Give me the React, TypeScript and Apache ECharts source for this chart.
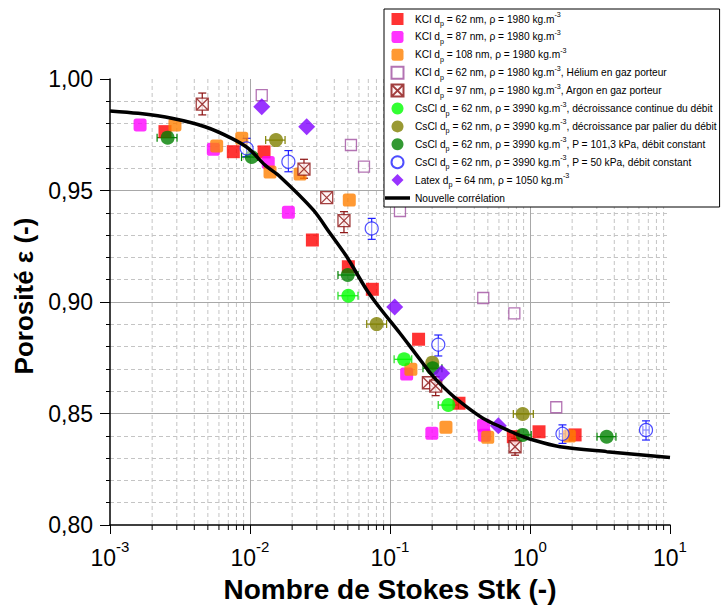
import React, { useEffect, useRef } from 'react';
import * as echarts from 'echarts';

const FONT = '"Liberation Sans", Arial, sans-serif';

// Axis ranges and tick values
const X_MIN = 0.001;
const X_MAX = 10;
const Y_MIN = 0.8;
const Y_MAX = 1.0;
const Y_INTERVAL = 0.05;
const MINOR_X = [
  0.002, 0.003, 0.004, 0.005, 0.006, 0.007, 0.008, 0.009,
  0.02, 0.03, 0.04, 0.05, 0.06, 0.07, 0.08, 0.09,
  0.2, 0.3, 0.4, 0.5, 0.6, 0.7, 0.8, 0.9,
  2, 3, 4, 5, 6, 7, 8, 9,
];

// Series names
const N_KCL62 = 'KCl 62';
const N_KCL87 = 'KCl 87';
const N_KCL108 = 'KCl 108';
const N_HE = 'KCl 62 He';
const N_AR = 'KCl 97 Ar';
const N_CS_CONT = 'CsCl cont';
const N_CS_PAL = 'CsCl palier';
const N_CS_101 = 'CsCl 101';
const N_CS_50 = 'CsCl 50';
const N_LATEX = 'Latex';
const N_CORR = 'Nouvelle corrélation';

const LEGEND_LABELS: Record<string, string> = {
  [N_KCL62]: 'KCl d{sub|p} = 62 nm, ρ = 1980 kg.m{sup|-3}',
  [N_KCL87]: 'KCl d{sub|p} = 87 nm, ρ = 1980 kg.m{sup|-3}',
  [N_KCL108]: 'KCl d{sub|p} = 108 nm, ρ = 1980 kg.m{sup|-3}',
  [N_HE]: 'KCl d{sub|p} = 62 nm, ρ = 1980 kg.m{sup|-3}, Hélium en gaz porteur',
  [N_AR]: 'KCl d{sub|p} = 97 nm, ρ = 1980 kg.m{sup|-3}, Argon en gaz porteur',
  [N_CS_CONT]: 'CsCl d{sub|p} = 62 nm, ρ = 3990 kg.m{sup|-3}, décroissance continue du débit',
  [N_CS_PAL]: 'CsCl d{sub|p} = 62 nm, ρ = 3990 kg.m{sup|-3}, décroissance par palier du débit',
  [N_CS_101]: 'CsCl d{sub|p} = 62 nm, ρ = 3990 kg.m{sup|-3}, P = 101,3 kPa, débit constant',
  [N_CS_50]: 'CsCl d{sub|p} = 62 nm, ρ = 3990 kg.m{sup|-3}, P = 50 kPa, débit constant',
  [N_LATEX]: 'Latex d{sub|p} = 64 nm, ρ = 1050 kg.m{sup|-3}',
  [N_CORR]: 'Nouvelle corrélation',
};

// Data: [Stk, porosity]
const kcl62 = [
  [0.00247, 0.9764], [0.0076, 0.9674], [0.0126, 0.9673], [0.0279, 0.9278],
  [0.0504, 0.9158], [0.0748, 0.9057], [0.160, 0.8833], [0.311, 0.8546],
  [0.760, 0.8396], [1.16, 0.8418], [2.10, 0.8404],
];
const kcl87 = [
  [0.00164, 0.9794], [0.00547, 0.9685], [0.0135, 0.9626], [0.0188, 0.9402],
  [0.1315, 0.8677], [0.199, 0.8411], [0.466, 0.8447], [0.472, 0.8403],
];
const kcl108 = [
  [0.00291, 0.9794], [0.00578, 0.9700], [0.00873, 0.9734], [0.0139, 0.9583],
  [0.0228, 0.9574], [0.0512, 0.9457], [0.141, 0.8698], [0.251, 0.8438],
  [0.499, 0.8393], [1.91, 0.8399],
];
const kclHelium = [
  [0.01213, 0.9928], [0.0526, 0.9704], [0.0652, 0.9607], [0.1178, 0.9408],
  [0.4636, 0.9018], [0.773, 0.8949], [1.54, 0.8528],
];
const kclArgon = [
  [0.00456, 0.9887], [0.0243, 0.9596], [0.0353, 0.9468], [0.0469, 0.9365],
  [0.188, 0.8638], [0.212, 0.8623], [0.782, 0.8351],
];
const csclCont = [
  [0.0504, 0.9028], [0.126, 0.8743], [0.2608, 0.8538],
];
const csclPalier = [
  [0.01534, 0.9726], [0.0803, 0.8901], [0.2004, 0.8728], [0.887, 0.8498],
];
const cscl101 = [
  [0.00258, 0.9737], [0.01028, 0.9650], [0.0499, 0.9121], [0.2018, 0.8703],
  [0.887, 0.8404], [3.53, 0.8396],
];
const cscl50 = [
  [0.00946, 0.9689], [0.0188, 0.9629], [0.0740, 0.9330], [0.2213, 0.8809],
  [1.706, 0.8409], [6.74, 0.8426],
];
const latex = [
  [0.01213, 0.9876], [0.0254, 0.9786], [0.108, 0.8978], [0.234, 0.8680],
  [0.594, 0.8445],
];

// Error bars: [Stk, porosity, low, high]
const errCscl101X = [
  [0.00258, 0.9737, 0.00217, 0.00301], [0.01028, 0.9650, 0.0087, 0.0113],
  [0.0499, 0.9121, 0.0425, 0.0591], [0.2018, 0.8703, 0.172, 0.235],
  [0.887, 0.8404, 0.77, 1.02], [3.53, 0.8396, 3.01, 4.11],
];
const errCsclContX = [
  [0.0504, 0.9028, 0.0425, 0.0591], [0.126, 0.8743, 0.107, 0.143],
  [0.2608, 0.8538, 0.221, 0.308],
];
const errCsclPalierX = [
  [0.01534, 0.9726, 0.01294, 0.0178], [0.0803, 0.8901, 0.0682, 0.0946],
  [0.887, 0.8498, 0.760, 1.056],
];
const errCscl50Y = [
  [0.00946, 0.9689, 0.9652, 0.9734], [0.0188, 0.9629, 0.9584, 0.9679],
  [0.0740, 0.9330, 0.9281, 0.9375], [0.2213, 0.8809, 0.8758, 0.8852],
  [1.706, 0.8409, 0.8366, 0.8449], [6.74, 0.8426, 0.8381, 0.8467],
];
const errCscl50X = [
  [1.706, 0.8409, 1.62, 1.79], [6.74, 0.8426, 6.4, 7.1],
];
const errArgonY = [
  [0.00456, 0.9887, 0.9839, 0.9937], [0.0243, 0.9596, 0.9555, 0.9640],
  [0.0469, 0.9365, 0.9311, 0.9405], [0.212, 0.8623, 0.8580, 0.8665],
  [0.782, 0.8351, 0.8313, 0.8389],
];

// Correlation curve
const curveX = [
  0.001, 0.00159, 0.00276, 0.00477, 0.0074, 0.00973, 0.0128, 0.0164, 0.0283,
  0.0373, 0.0491, 0.0578, 0.0682, 0.0849, 0.1178, 0.155, 0.204, 0.268, 0.353,
  0.464, 0.611, 0.803, 1.056, 1.638, 3.53, 10,
];
const curveY = [
  0.9857, 0.9846, 0.9824, 0.9786, 0.9734, 0.9689, 0.9614, 0.9562, 0.9413,
  0.9308, 0.9203, 0.9129, 0.9054, 0.8972, 0.8860, 0.8762, 0.8665, 0.8591, 0.8530,
  0.8478, 0.8441, 0.8408, 0.8381, 0.8351, 0.8329, 0.8303,
];

const SQ = 'path://M0,0H10V10H0Z';
const RSQ = 'path://M2,0H8Q10,0 10,2V8Q10,10 8,10H2Q0,10 0,8V2Q0,0 2,0Z';
const CROSS_SQ = 'path://M0,0H10V10H0Z M0,0L10,10 M10,0L0,10';
const DIAMOND = 'path://M5,0L10,5L5,10L0,5Z';
const LINE_ICON = 'path://M0,0H25V3.5H0Z';

function errSeries(data: number[][], dir: 'x' | 'y', color: string): any {
  return {
    type: 'custom',
    coordinateSystem: 'cartesian2d',
    silent: true,
    clip: false,
    dimensions: ['x', 'y', 'lo', 'hi'],
    encode: { x: 0, y: 1 },
    data,
    renderItem: (_p: any, api: any) => {
      const x = api.value(0);
      const y = api.value(1);
      const lo = api.value(2);
      const hi = api.value(3);
      const a = dir === 'x' ? api.coord([lo, y]) : api.coord([x, lo]);
      const b = dir === 'x' ? api.coord([hi, y]) : api.coord([x, hi]);
      const c = 4;
      const st = { stroke: color, lineWidth: 1.2 };
      const children: any[] = [
        { type: 'line', shape: { x1: a[0], y1: a[1], x2: b[0], y2: b[1] }, style: st },
      ];
      if (dir === 'x') {
        children.push({ type: 'line', shape: { x1: a[0], y1: a[1] - c, x2: a[0], y2: a[1] + c }, style: st });
        children.push({ type: 'line', shape: { x1: b[0], y1: b[1] - c, x2: b[0], y2: b[1] + c }, style: st });
      } else {
        children.push({ type: 'line', shape: { x1: a[0] - c, y1: a[1], x2: a[0] + c, y2: a[1] }, style: st });
        children.push({ type: 'line', shape: { x1: b[0] - c, y1: b[1], x2: b[0] + c, y2: b[1] }, style: st });
      }
      return { type: 'group', children };
    },
  };
}

function scatter(name: string, data: number[][], symbol: string, size: number, itemStyle: any): any {
  return { type: 'scatter', name, data, symbol, symbolSize: size, symbolKeepAspect: true, itemStyle };
}

export default function App() {
  const ref = useRef<HTMLDivElement>(null);
  useEffect(() => {
    if (!ref.current) return;
    const chart = echarts.init(ref.current, null, { renderer: 'svg' });
    const minorGrid = {
      type: 'custom',
      coordinateSystem: 'cartesian2d',
      silent: true,
      clip: false,
      z: 1,
      encode: { x: 0, y: 1 },
      data: MINOR_X.map((v) => [v, Y_MIN]),
      renderItem: (_p: any, api: any) => {
        const v = api.value(0);
        const t = api.coord([v, Y_MAX]);
        const b = api.coord([v, Y_MIN]);
        return {
          type: 'group',
          children: [
            { type: 'line', shape: { x1: t[0], y1: t[1], x2: b[0], y2: b[1] }, style: { stroke: '#c4c4c4', lineWidth: 1, lineDash: [4, 3] } },
            { type: 'line', shape: { x1: b[0], y1: b[1], x2: b[0], y2: b[1] + 5 }, style: { stroke: '#000', lineWidth: 1 } },
          ],
        };
      },
    };

    const option: any = {
      animation: false,
      backgroundColor: '#ffffff',
      textStyle: { fontFamily: FONT },
      grid: { left: 110, top: 79, width: 560, height: 446, outerBoundsMode: 'none' },
      legend: {
        orient: 'vertical',
        left: 384,
        top: 9,
        padding: [2, 3, 1, 1],
        itemWidth: 25,
        itemHeight: 12,
        itemGap: 1.9,
        symbolKeepAspect: true,
        backgroundColor: '#ffffff',
        borderColor: '#000000',
        borderWidth: 1,
        borderRadius: 0,
        selectedMode: false,
        data: [
          N_KCL62, N_KCL87, N_KCL108, N_HE, N_AR, N_CS_CONT, N_CS_PAL, N_CS_101, N_CS_50,
          { name: N_LATEX, icon: 'path://M5,0L10,5L5,10L0,5Z' },
          { name: N_CORR, icon: LINE_ICON },
        ],
        formatter: (name: string) => LEGEND_LABELS[name] || name,
        textStyle: {
          fontFamily: FONT,
          fontSize: 10.2,
          lineHeight: 16,
          color: '#000',
          rich: {
            sub: { fontSize: 7.2, lineHeight: 8, verticalAlign: 'bottom', fontFamily: FONT, color: '#000' },
            sup: { fontSize: 7.2, lineHeight: 8, verticalAlign: 'top', fontFamily: FONT, color: '#000' },
          },
        },
      },
      xAxis: {
        type: 'log',
        logBase: 10,
        min: X_MIN,
        max: X_MAX,
        name: 'Nombre de Stokes Stk (-)',
        nameLocation: 'middle',
        nameGap: 50,
        nameTextStyle: { fontFamily: FONT, fontSize: 28, fontWeight: 'bold', color: '#000' },
        axisLine: { show: true, onZero: false, lineStyle: { color: '#000', width: 1.5 } },
        axisTick: { show: true, inside: false, length: 9, lineStyle: { color: '#000', width: 1 } },
        axisLabel: {
          margin: 14,
          color: '#000',
          formatter: (v: number) => `{b|10}{s|${Math.round(Math.log10(v))}}`,
          rich: {
            b: { fontSize: 23, lineHeight: 30, fontFamily: FONT, color: '#000', verticalAlign: 'bottom' },
            s: { fontSize: 15, lineHeight: 15, fontFamily: FONT, color: '#000', verticalAlign: 'top' },
          },
        },
        splitLine: { show: true, showMinLine: false, showMaxLine: false, lineStyle: { color: '#a8a8a8', width: 1 } },
      },
      yAxis: {
        type: 'value',
        min: Y_MIN,
        max: Y_MAX,
        interval: Y_INTERVAL,
        name: 'Porosité ε (-)',
        nameLocation: 'middle',
        nameRotate: 90,
        nameGap: 72,
        nameTextStyle: { fontFamily: FONT, fontSize: 26, fontWeight: 'bold', color: '#000', padding: [0, 0, 0, 12] },
        axisLine: { show: true, onZero: false, lineStyle: { color: '#000', width: 1.5 } },
        axisTick: { show: true, inside: false, length: 10, lineStyle: { color: '#000', width: 1 } },
        minorTick: { show: true, splitNumber: 5, length: 4, lineStyle: { color: '#000', width: 1 } },
        minorSplitLine: { show: true, lineStyle: { color: '#c4c4c4', width: 1, type: [4, 3] } },
        axisLabel: {
          margin: 17,
          fontSize: 23,
          fontFamily: FONT,
          color: '#000',
          formatter: (v: number) => v.toFixed(2).replace('.', ','),
        },
        splitLine: { show: true, showMinLine: false, showMaxLine: false, lineStyle: { color: '#a8a8a8', width: 1 } },
      },
      series: [
        minorGrid,
        errSeries(errArgonY, 'y', '#8b1010'),
        errSeries(errCsclContX, 'x', '#22dd22'),
        errSeries(errCsclPalierX, 'x', '#808000'),
        errSeries(errCscl101X, 'x', '#008000'),
        errSeries(errCscl50Y, 'y', '#2020ff'),
        errSeries(errCscl50X, 'x', '#2020ff'),
        scatter(N_KCL62, kcl62, SQ, 13, { color: '#ff0000' }),
        scatter(N_KCL87, kcl87, RSQ, 13, { color: '#ff00ff' }),
        scatter(N_KCL108, kcl108, RSQ, 13, { color: '#ff8000' }),
        scatter(N_HE, kclHelium, SQ, 11, { color: 'rgba(255,255,255,0.5)', borderColor: '#a050a0', borderWidth: 1.3 }),
        scatter(N_AR, kclArgon, CROSS_SQ, 12, { color: '#fff4f4', borderColor: '#8b1010', borderWidth: 1.3 }),
        scatter(N_CS_CONT, csclCont, 'circle', 14, { color: '#00ff00' }),
        scatter(N_CS_PAL, csclPalier, 'circle', 14, { color: '#808000' }),
        scatter(N_CS_101, cscl101, 'circle', 14, { color: '#008000' }),
        scatter(N_CS_50, cscl50, 'circle', 13, { color: 'rgba(255,255,255,0.6)', borderColor: '#2020ff', borderWidth: 1.2 }),
        scatter(N_LATEX, latex, DIAMOND, 17, { color: '#8000ff' }),
        {
          type: 'line',
          name: N_CORR,
          data: curveX.map((x, i) => [x, curveY[i]]),
          symbol: 'none',
          smooth: 0.3,
          lineStyle: { color: '#000', width: 3.5 },
          itemStyle: { color: '#000' },
          z: 3,
        },
      ],
    };
    chart.setOption(option);
    return () => chart.dispose();
  }, []);
  return <div ref={ref} style={{ position: 'fixed', left: 0, top: 0, width: 726, height: 608 }} />;
}
